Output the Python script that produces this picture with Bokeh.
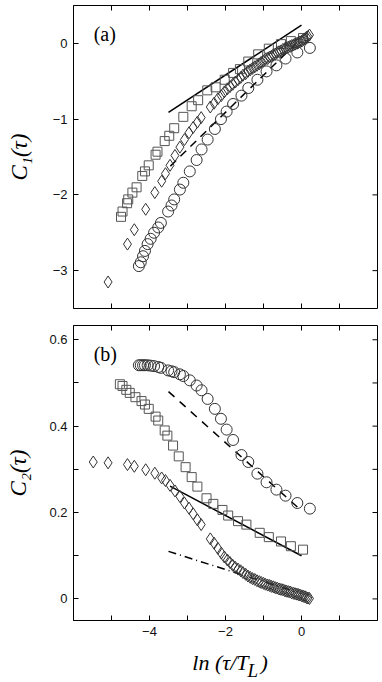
import math
from bokeh.plotting import figure
from bokeh.layouts import column
from bokeh.models import Range1d, FixedTicker, Label
from bokeh.core.properties import value
from bokeh.embed import file_html
from bokeh.resources import INLINE

# ---------------- data: panel (a) ----------------
a_sq_x = [-4.75, -4.71, -4.59, -4.56, -4.45, -4.34, -4.19, -4.12, -4.02, -3.84, -3.79, -3.60, -3.48, -3.35,
          -3.11, -2.89, -2.72, -2.48, -2.26, -2.02, -1.80, -1.62, -1.40, -1.14, -0.86, -0.54, -0.28, 0.04]
a_sq_y = [-2.29, -2.22, -2.11, -2.06, -1.97, -1.90, -1.75, -1.69, -1.61, -1.47, -1.43, -1.29, -1.22, -1.12,
          -0.97, -0.83, -0.75, -0.62, -0.58, -0.48, -0.39, -0.34, -0.24, -0.145, -0.07, -0.01, 0.03, 0.07]

ci_x = [-4.28, -4.23, -4.17, -4.12, -4.05, -3.97, -3.88, -3.77, -3.70, -3.51, -3.42, -3.35, -3.20, -3.11, -2.94,
        -2.76, -2.63, -2.47, -2.28, -2.12, -1.97, -1.80, -1.58, -1.40, -1.16, -0.92, -0.66, -0.42, -0.11, 0.22]
a_ci_y = [-2.94, -2.89, -2.81, -2.74, -2.65, -2.58, -2.50, -2.43, -2.37, -2.22, -2.14, -2.06, -1.93, -1.84, -1.69,
          -1.54, -1.40, -1.27, -1.13, -1.00, -0.90, -0.80, -0.69, -0.59, -0.48, -0.37, -0.29, -0.20, -0.12, -0.06]

di_x_first = [-5.09, -4.58, -4.40, -4.10, -3.86, -3.68, -3.58, -3.46]
di_x_dense = [-3.33, -3.20, -3.08, -2.96, -2.85, -2.74, -2.64,
              -2.40, -2.30, -2.20, -2.11, -2.03, -1.95, -1.88, -1.81, -1.74, -1.67,
              -1.60, -1.54, -1.47, -1.41, -1.35, -1.29, -1.23, -1.17, -1.11, -1.06,
              -1.00, -0.95, -0.89, -0.84, -0.79, -0.74, -0.69, -0.64, -0.59, -0.54,
              -0.49, -0.44, -0.40, -0.35, -0.30, -0.26, -0.21, -0.17, -0.12, -0.08,
              -0.04, 0.01, 0.05, 0.09, 0.13, 0.17, 0.21]
a_di_x = di_x_first + di_x_dense
a_di_y = [-3.15, -2.65, -2.46, -2.19, -1.97, -1.82, -1.72, -1.61,
          -1.48, -1.37, -1.27, -1.18, -1.11, -1.04, -0.98,
          -0.84, -0.79, -0.73, -0.69, -0.64, -0.60, -0.57, -0.54, -0.51, -0.48,
          -0.45, -0.42, -0.40, -0.37, -0.35, -0.33, -0.31, -0.29, -0.27, -0.25,
          -0.23, -0.21, -0.20, -0.18, -0.17, -0.15, -0.14, -0.12, -0.11, -0.10,
          -0.08, -0.07, -0.06, -0.05, -0.04, -0.03, -0.02, -0.01, 0.00, 0.01,
          0.02, 0.03, 0.05, 0.06, 0.08, 0.09, 0.11]

a_solid_x = [-3.50, 0.00]
a_solid_y = [-0.91, 0.24]
a_dash_x = [-3.45, -0.10]
a_dash_y = [-1.62, 0.02]

# ---------------- data: panel (b) ----------------
b_sq_x = [-4.78, -4.71, -4.61, -4.52, -4.37, -4.21, -4.12, -4.02, -3.84, -3.77, -3.60, -3.53, -3.38, -3.23,
          -3.05, -2.89, -2.74, -2.50, -2.32, -2.08, -1.93, -1.67, -1.45, -1.10, -0.86, -0.54, -0.28, 0.04]
b_sq_y = [0.497, 0.493, 0.484, 0.477, 0.467, 0.458, 0.450, 0.440, 0.422, 0.413, 0.390, 0.378, 0.355, 0.330,
          0.305, 0.282, 0.260, 0.233, 0.220, 0.206, 0.193, 0.180, 0.172, 0.153, 0.143, 0.133, 0.122, 0.114]

b_ci_y = [0.541, 0.541, 0.541, 0.541, 0.541, 0.540, 0.539, 0.537, 0.535, 0.529, 0.527, 0.525, 0.520, 0.516, 0.506,
          0.494, 0.483, 0.463, 0.440, 0.417, 0.392, 0.368, 0.333, 0.317, 0.290, 0.270, 0.253, 0.239, 0.222, 0.209]

b_di_x = [-5.48] + di_x_first + di_x_dense
b_di_y = [0.317, 0.315, 0.311, 0.307, 0.299, 0.291, 0.280, 0.274, 0.263,
          0.250, 0.237, 0.222, 0.210, 0.197, 0.183, 0.172,
          0.139, 0.129, 0.117, 0.106, 0.097, 0.090, 0.084, 0.078, 0.073, 0.069,
          0.065, 0.061, 0.057, 0.053, 0.050, 0.047, 0.045, 0.042, 0.040, 0.038,
          0.036, 0.034, 0.032, 0.031, 0.029, 0.028, 0.026, 0.025, 0.023, 0.022,
          0.021, 0.019, 0.018, 0.017, 0.016, 0.014, 0.013, 0.012, 0.011, 0.010,
          0.009, 0.007, 0.006, 0.005, 0.003, 0.002, 0.001]

b_solid_x = [-3.46, 0.00]
b_solid_y = [0.261, 0.100]
b_dash_x = [-3.50, -0.10]
b_dash_y = [0.480, 0.212]
b_dashdot_x = [-3.50, -0.10]
b_dashdot_y = [0.110, 0.015]

# ---------------- ticks ----------------
X_RANGE = (-6, 2)
A_RANGE = (-3.5, 0.5)
B_RANGE = (-0.05, 0.633)
x_ticks = [-5, -4, -3, -2, -1, 0, 1]
x_tick_labels = {-5: "", -4: "\u22124", -3: "", -2: "\u22122", -1: "", 0: "0", 1: ""}
a_y_ticks = [-3, -2, -1, 0]
a_y_tick_labels = {-3: "\u22123", -2: "\u22122", -1: "\u22121", 0: "0"}
b_y_ticks = [0, 0.1, 0.2, 0.3, 0.4, 0.5, 0.6]
b_y_tick_labels = {0: "0", 0.1: "", 0.2: "0.2", 0.3: "", 0.4: "0.4", 0.5: "", 0.6: "0.6"}

SANS = "Liberation Sans"
SERIF = "Liberation Serif"
MK = "#333333"


def style_axis(ax, ticks, overrides):
    ax.ticker = FixedTicker(ticks=ticks)
    ax.major_tick_in = 5
    ax.major_tick_out = 0
    ax.minor_tick_line_color = None
    ax.axis_line_color = "black"
    ax.major_tick_line_color = "black"
    ax.major_label_overrides = overrides
    ax.major_label_text_font = SANS
    ax.major_label_text_font_size = "13px"
    ax.major_label_text_color = "#111111"
    ax.major_label_standoff = 6


def mirror_ticks(p, xt, yt, y_edges, x_edges):
    # inward tick marks on the frame edges without labels (half of each dash is clipped by the frame)
    for ye in y_edges:
        p.scatter(xt, [ye] * len(xt), marker="dash", size=10, angle=math.pi / 2,
                  line_color="black", line_width=1)
    for xe in x_edges:
        p.scatter([xe] * len(yt), yt, marker="dash", size=10, angle=0,
                  line_color="black", line_width=1)


def make_fig(yr, frame_h, b_top, b_bottom, y_ticks, y_overrides, show_x, ylabel, ylabel_standoff):
    p = figure(frame_width=304, frame_height=frame_h,
               x_range=Range1d(*X_RANGE), y_range=Range1d(*yr),
               x_axis_location="below" if show_x else None,
               output_backend="svg", toolbar_location=None,
               min_border_left=73, min_border_right=1, min_border_top=b_top, min_border_bottom=b_bottom,
               background_fill_color="white", border_fill_color="white",
               outline_line_color="black", outline_line_width=1, outline_line_alpha=1)
    p.grid.visible = False
    if show_x:
        for ax in p.below:
            style_axis(ax, x_ticks, x_tick_labels)
    for ax in p.left:
        style_axis(ax, y_ticks, y_overrides)
        ax.axis_label = ylabel
        ax.axis_label_text_font = SERIF
        ax.axis_label_text_font_style = "italic"
        ax.axis_label_text_font_size = "23px"
        ax.axis_label_text_color = "black"
        ax.axis_label_standoff = ylabel_standoff
    return p


# ---------------- panel (a) ----------------
p1 = make_fig(A_RANGE, 303, 5, 8, a_y_ticks, a_y_tick_labels, False, "C\u2081(\u03c4)", 18)
mirror_ticks(p1, x_ticks, a_y_ticks, [A_RANGE[0], A_RANGE[1]], [X_RANGE[1]])
p1.line(a_solid_x, a_solid_y, line_color="black", line_width=1.5)
p1.line(a_dash_x, a_dash_y, line_color="black", line_width=1.5, line_dash="8 6")
p1.scatter(a_sq_x, a_sq_y, marker="square", size=9, fill_alpha=0, line_color="#555555", line_width=1)
p1.scatter(a_di_x, a_di_y, marker="diamond", size=12, fill_alpha=0, line_color=MK, line_width=1)
p1.scatter(ci_x, a_ci_y, marker="circle", size=11, fill_alpha=0, line_color=MK, line_width=1)
p1.add_layout(Label(x=-5.47, y=0.13, text="(a)", text_font=SERIF, text_font_size="20px",
                    text_baseline="alphabetic", text_color="black"))

# ---------------- panel (b) ----------------
p2 = make_fig(B_RANGE, 295, 9, 22, b_y_ticks, b_y_tick_labels, True, "C\u2082(\u03c4)", 15)
mirror_ticks(p2, x_ticks, b_y_ticks, [B_RANGE[1]], [X_RANGE[1]])
p2.line(b_solid_x, b_solid_y, line_color="black", line_width=1.5)
p2.line(b_dash_x, b_dash_y, line_color="black", line_width=1.5, line_dash="8 7")
p2.line(b_dashdot_x, b_dashdot_y, line_color="black", line_width=1.5, line_dash="8 4 1 4")
p2.scatter(b_sq_x, b_sq_y, marker="square", size=9, fill_alpha=0, line_color="#555555", line_width=1)
p2.scatter(b_di_x, b_di_y, marker="diamond", size=12, fill_alpha=0, line_color=MK, line_width=1)
p2.scatter(ci_x, b_ci_y, marker="circle", size=11, fill_alpha=0, line_color=MK, line_width=1)
p2.add_layout(Label(x=-5.47, y=0.566, text="(b)", text_font=SERIF, text_font_size="20px",
                    text_baseline="alphabetic", text_color="black"))

# ---------------- x-axis title strip (with subscript L) ----------------
p3 = figure(frame_width=304, frame_height=40, x_range=Range1d(*X_RANGE), y_range=Range1d(0, 40),
            x_axis_location=None, y_axis_location=None, output_backend="svg", toolbar_location=None,
            min_border_left=73, min_border_right=1, min_border_top=0, min_border_bottom=0,
            outline_line_color=None, background_fill_color="white", border_fill_color="white")
p3.grid.visible = False
p3.text(x=[-1.395], y=[20], text=["ln (\u03c4/T"], text_font=value(SERIF), text_font_style="italic",
        text_font_size="22px", text_align="right", text_baseline="alphabetic", text_color="black")
p3.text(x=[-1.42], y=[12], text=["L"], text_font=value(SERIF), text_font_style="italic",
        text_font_size="19px", text_align="left", text_baseline="alphabetic", text_color="black")
p3.text(x=[-1.08], y=[20], text=[")"], text_font=value(SERIF), text_font_style="italic",
        text_font_size="22px", text_align="left", text_baseline="alphabetic", text_color="black")

layout = column(p1, p2, p3)
open("out.html", "w").write(file_html(layout, INLINE))
